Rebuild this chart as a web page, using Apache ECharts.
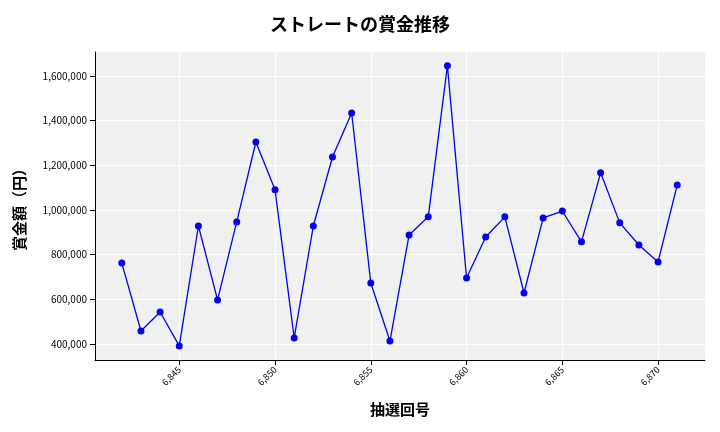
<!DOCTYPE html>
<html>
<head>
<meta charset="utf-8">
<script src="https://cdn.jsdelivr.net/npm/echarts@6/dist/echarts.min.js"></script>
<style>html,body{margin:0;padding:0;background:#fff;}#chart{width:720px;height:432px;}</style>
</head>
<body>
<div id="chart"></div>
<script>
var draws = [6842,6843,6844,6845,6846,6847,6848,6849,6850,6851,6852,6853,6854,6855,6856,
    6857,6858,6859,6860,6861,6862,6863,6864,6865,6866,6867,6868,6869,6870,6871];
var prizes = [762000,458000,543000,391000,928000,597000,946000,1304000,1090000,427000,
    928000,1237000,1434000,673000,413000,888000,969000,1645000,695000,879000,
    969000,628000,964000,995000,857000,1166000,942000,843000,767000,1112000];
var xTicks = [6845, 6850, 6855, 6860, 6865, 6870];
var yTicks = [400000, 600000, 800000, 1000000, 1200000, 1400000, 1600000];

var points = [];
for (var i = 0; i < draws.length; i++) {
    points.push([draws[i], prizes[i]]);
}

var font = '"Noto Sans CJK JP", "Noto Sans", sans-serif';
var chart = echarts.init(document.getElementById('chart'));
chart.setOption({
    title: {
        text: 'ストレートの賞金推移',
        left: 'center',
        top: 10,
        textStyle: {fontFamily: font, fontSize: 18, fontWeight: 'bold', color: '#000'}
    },
    grid: {left: 95, right: 15, top: 52, bottom: 72, backgroundColor: '#f0f0f0', show: true, borderWidth: 0},
    xAxis: {
        type: 'value',
        min: 6840.6,
        max: 6872.45,
        name: '抽選回号',
        nameLocation: 'middle',
        nameGap: 42,
        nameTextStyle: {fontFamily: font, fontSize: 15, fontWeight: 'bold', color: '#000'},
        axisLine: {show: true, onZero: false, lineStyle: {color: '#000'}},
        axisTick: {show: true, customValues: xTicks, lineStyle: {color: '#000'}},
        axisLabel: {rotate: 45, fontSize: 9, color: '#000', fontFamily: font, customValues: xTicks},
        splitLine: {show: true, lineStyle: {color: '#fff', width: 1}}
    },
    yAxis: {
        type: 'value',
        min: 328000,
        max: 1707000,
        name: '賞金額（円）',
        nameLocation: 'middle',
        nameGap: 68,
        nameTextStyle: {fontFamily: font, fontSize: 15, fontWeight: 'bold', color: '#000'},
        axisLine: {show: true, lineStyle: {color: '#000'}},
        axisTick: {show: true, customValues: yTicks, lineStyle: {color: '#000'}},
        axisLabel: {
            fontSize: 10, color: '#000', fontFamily: font, customValues: yTicks,
            formatter: function (v) { return v.toLocaleString('en-US'); }
        },
        splitLine: {show: true, lineStyle: {color: '#fff', width: 1}}
    },
    series: [{
        type: 'line',
        data: points,
        symbol: 'circle',
        symbolSize: 7,
        lineStyle: {color: '#0000ee', width: 1.3},
        itemStyle: {color: '#0000ee'}
    }]
});
</script>
</body>
</html>
